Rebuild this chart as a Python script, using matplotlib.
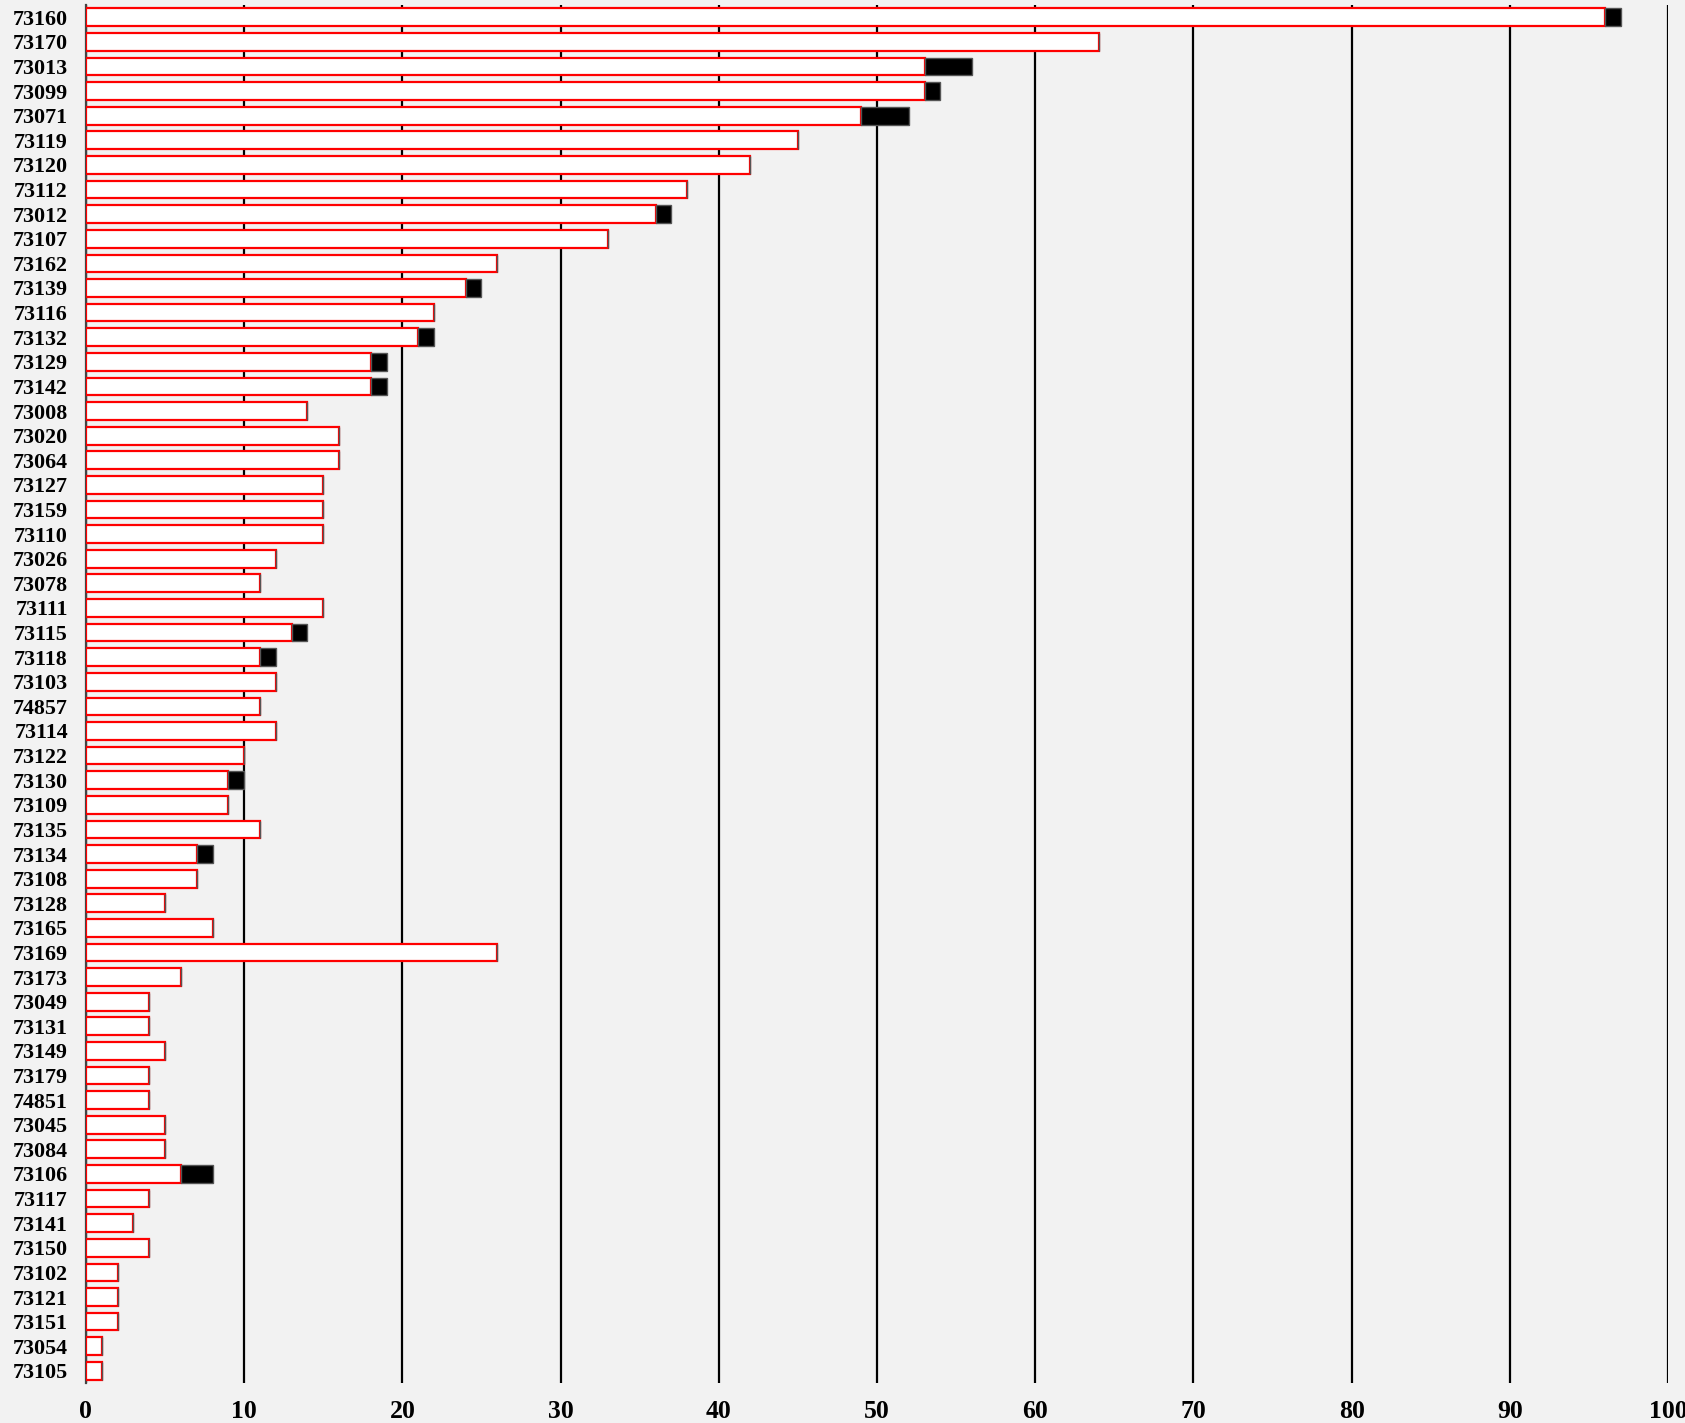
import matplotlib.pyplot as plt

# station ids, top to bottom
stations = ['73160', '73170', '73013', '73099', '73071', '73119', '73120', '73112',
            '73012', '73107', '73162', '73139', '73116', '73132', '73129', '73142',
            '73008', '73020', '73064', '73127', '73159', '73110', '73026', '73078',
            '73111', '73115', '73118', '73103', '74857', '73114', '73122', '73130',
            '73109', '73135', '73134', '73108', '73128', '73165', '73169', '73173',
            '73049', '73131', '73149', '73179', '74851', '73045', '73084', '73106',
            '73117', '73141', '73150', '73102', '73121', '73151', '73054', '73105']
# red (white filled) part
base = [96, 64, 53, 53, 49, 45, 42, 38, 36, 33, 26, 24, 22, 21, 18, 18,
        14, 16, 16, 15, 15, 15, 12, 11, 15, 13, 11, 12, 11, 12, 10, 9,
        9, 11, 7, 7, 5, 8, 26, 6, 4, 4, 5, 4, 4, 5, 5, 6,
        4, 3, 4, 2, 2, 2, 1, 1]
# black part on the end
extra = [1, 0, 3, 1, 3, 0, 0, 0, 1, 0, 0, 1, 0, 1, 1, 1,
         0, 0, 0, 0, 0, 0, 0, 0, 0, 1, 1, 0, 0, 0, 0, 1,
         0, 0, 1, 0, 0, 0, 0, 0, 0, 0, 0, 0, 0, 0, 0, 2,
         0, 0, 0, 0, 0, 0, 0, 0]

plt.rcParams['font.family'] = ['Liberation Serif', 'DejaVu Serif']
plt.rcParams['font.weight'] = 'bold'

fig = plt.figure(figsize=(16.85, 14.23), dpi=100, facecolor='#f2f2f2')
ax = fig.add_axes([0.051, 0.028, 0.939, 0.9685])
ax.set_facecolor('#f2f2f2')

ypos = list(range(len(stations)))
ax.barh(ypos, base, height=0.72, color='white', edgecolor='red', linewidth=1.6, zorder=3)
ax.barh(ypos, extra, left=base, height=0.72, color='black', edgecolor='#555555',
        linewidth=1.0, zorder=3)

ax.set_xlim(0, 100)
ax.set_ylim(len(stations) - 0.5, -0.5)
ax.set_yticks(ypos)
ax.set_yticklabels(stations)
ax.set_xticks(range(0, 101, 10))
ax.tick_params(axis='y', length=0, labelsize=15.8, pad=13)
ax.tick_params(axis='x', length=0, labelsize=18.5, pad=12)
for lab in ax.get_xticklabels() + ax.get_yticklabels():
    lab.set_fontweight('bold')

ax.grid(axis='x', color='black', linewidth=1.6, zorder=0)
ax.set_axisbelow(True)
for s in ['top', 'right', 'bottom']:
    ax.spines[s].set_visible(False)
ax.spines['left'].set_color('#444444')
ax.spines['left'].set_linewidth(1.6)

fig.savefig('out.png', dpi=100, facecolor='#f2f2f2')
